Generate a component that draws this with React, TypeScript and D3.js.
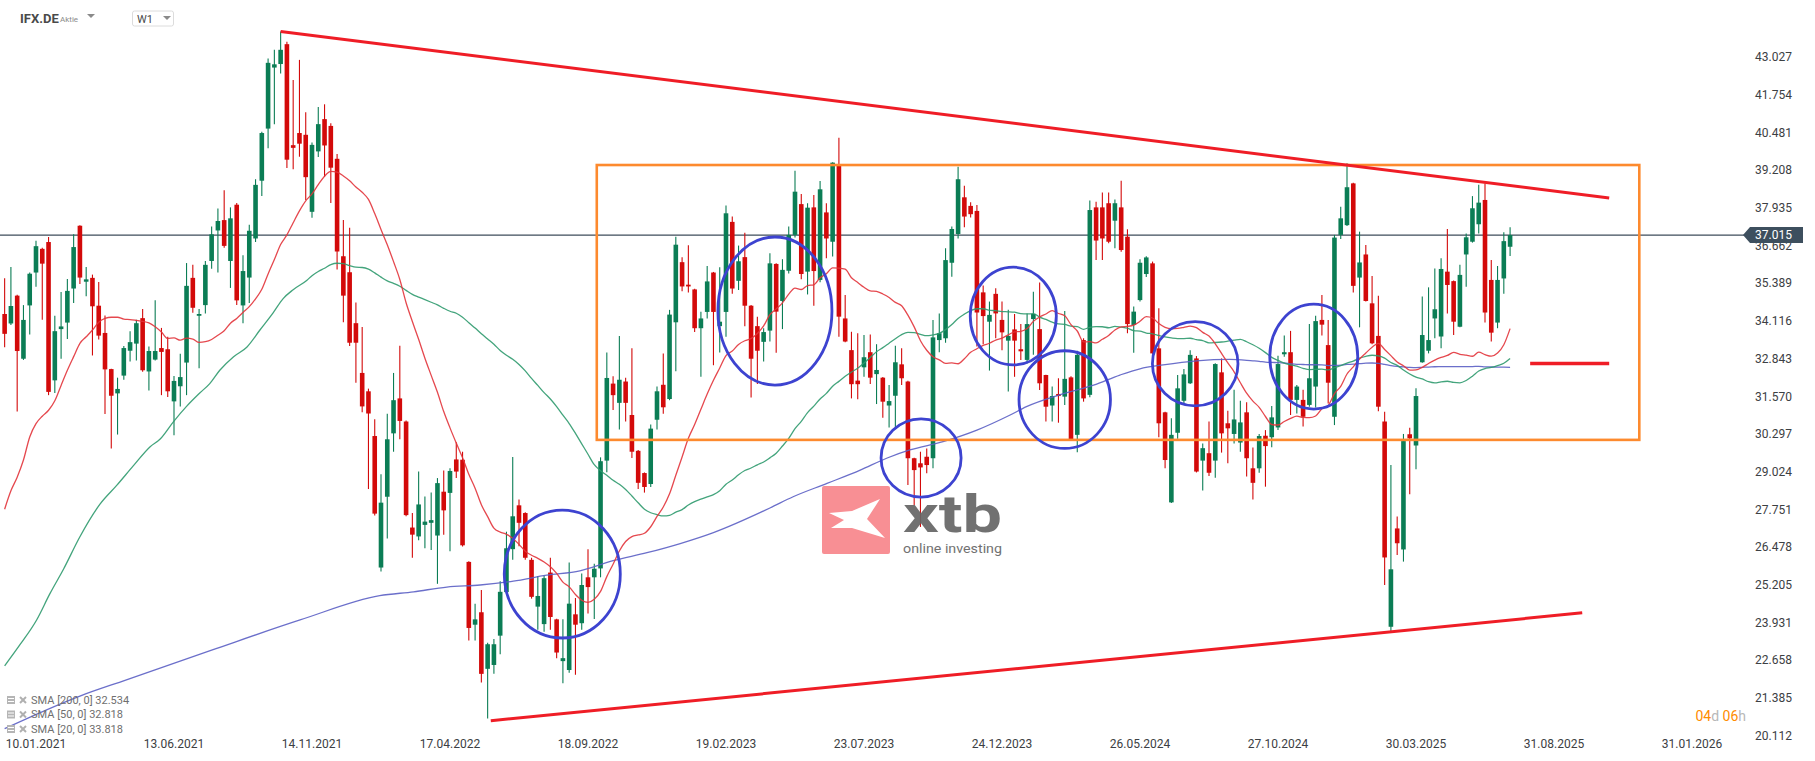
import React from "react";
import * as d3 from "d3";

// ---------- DATA (weekly candles, index 0 = week of 10.01.2021) ----------
const FIRST_INDEX = -5;
const opens = [
  34.35, 34.03, 34.97, 32.84, 34.64,
  35.75, 36.55, 36.78, 32.11, 33.84, 34.06, 35.21, 37.33, 35.44, 35.57,
  34.63, 33.71, 32.49, 31.67, 32.27, 33.11, 33.35, 34.21, 32.41, 32.81,
  33.20, 33.16, 31.40, 31.91, 32.71, 35.57, 34.29, 34.65, 36.14, 37.17,
  37.52, 36.14, 38.04, 34.64, 35.58, 36.90, 38.85, 40.61, 42.67, 42.79,
  43.46, 40.05, 40.46, 40.40, 37.80, 39.84, 40.93, 40.70, 39.59, 36.30,
  35.76, 34.04, 32.36, 31.74, 30.23, 25.79, 28.18, 30.32, 31.50, 30.72,
  27.14, 26.84, 27.23, 27.30, 26.87, 28.35, 28.31, 29.44, 29.43, 25.98,
  23.86, 24.28, 22.37, 22.50, 23.49, 24.96, 26.41, 27.89, 27.63, 26.05,
  24.47, 23.88, 25.62, 24.04, 22.63, 22.33, 24.21, 23.91, 25.46, 25.46,
  25.76, 29.40, 32.00, 31.35, 32.07, 30.94, 29.73, 28.98, 28.61, 30.78,
  31.96, 31.48, 34.07, 36.10, 35.34, 35.18, 33.87, 34.42, 35.75, 33.94,
  34.42, 37.46, 35.47, 36.27, 34.63, 33.94, 33.41, 33.79, 36.04, 34.79,
  35.81, 37.02, 38.06, 35.78, 37.95, 35.50, 37.78, 36.79, 39.38, 34.20,
  33.13, 32.10, 32.55, 33.06, 32.32, 32.20, 31.26, 31.59, 32.65, 32.07,
  29.48, 29.31, 29.53, 29.48, 33.47, 33.53, 36.08, 37.05, 38.29, 38.00,
  37.83, 35.08, 34.09, 35.03, 34.15, 33.45, 33.83, 33.16, 32.80, 34.18,
  33.84, 32.29, 31.26, 31.65, 31.56, 32.21, 30.27, 33.47, 31.62, 37.95,
  37.95, 38.09, 37.50, 37.95, 36.96, 33.98, 34.82, 35.70, 36.06, 33.19,
  31.03, 27.99, 30.34, 31.42, 32.01, 32.85, 29.40, 29.65, 29.40, 32.38,
  30.66, 30.30, 30.01, 31.03, 29.14, 29.14, 30.24, 30.19, 30.52, 32.99,
  33.06, 31.45, 31.45, 31.28, 31.90, 34.15, 33.30, 30.88, 37.02, 37.35,
  38.76, 35.58, 36.36, 34.71, 33.61, 30.72, 23.79, 27.11, 26.40, 30.29,
  29.91, 32.72, 33.11, 34.20, 33.59, 35.78, 35.46, 33.92, 36.36, 36.79,
  37.38, 38.20, 35.50, 34.06, 35.55, 36.62,
];
const highs = [
  35.56, 35.94, 35.0, 34.65, 35.75,
  36.82, 36.59, 36.95, 34.29, 35.09, 35.53, 37.04, 37.35, 35.94, 35.68,
  35.43, 34.30, 32.50, 32.20, 33.27, 33.77, 34.16, 34.52, 33.25, 34.81,
  33.88, 33.58, 32.26, 33.01, 36.07, 36.01, 34.52, 36.14, 37.30, 37.91,
  38.53, 37.95, 38.10, 36.33, 37.36, 38.90, 40.50, 42.98, 43.27, 43.89,
  43.54, 42.25, 42.93, 41.16, 40.14, 41.34, 41.43, 40.79, 39.75, 37.52,
  37.26, 34.74, 33.91, 31.83, 30.80, 28.94, 30.98, 32.36, 33.28, 30.75,
  27.63, 29.03, 28.19, 28.32, 28.81, 29.07, 29.14, 30.02, 29.70, 26.00,
  24.57, 25.03, 23.25, 23.38, 25.33, 27.00, 29.52, 28.09, 27.66, 26.12,
  25.50, 25.52, 26.12, 24.06, 24.04, 25.96, 24.76, 25.59, 26.41, 25.92,
  29.51, 33.05, 32.25, 33.61, 32.20, 33.19, 29.76, 29.00, 30.62, 31.90,
  33.02, 34.49, 36.96, 36.27, 36.67, 35.20, 34.43, 35.97, 35.77, 35.93,
  38.01, 37.64, 36.66, 37.09, 34.65, 34.26, 33.87, 36.40, 36.06, 36.20,
  37.30, 39.19, 38.40, 38.09, 38.37, 38.84, 38.09, 39.47, 40.30, 34.99,
  33.75, 33.70, 33.64, 33.66, 33.33, 32.22, 31.95, 33.28, 33.19, 32.10,
  29.50, 29.70, 29.81, 34.15, 34.37, 36.57, 37.30, 39.32, 38.68, 38.12,
  38.03, 35.31, 34.77, 35.22, 34.77, 34.49, 34.35, 34.01, 34.37, 35.10,
  35.41, 32.30, 31.90, 32.18, 34.45, 32.25, 33.11, 33.53, 38.18, 38.14,
  38.45, 38.45, 38.22, 38.85, 37.21, 34.60, 36.20, 36.30, 36.12, 34.54,
  31.05, 30.83, 32.29, 32.49, 33.13, 32.93, 29.98, 30.72, 32.69, 32.85,
  31.08, 31.79, 31.42, 31.37, 29.84, 30.30, 30.43, 31.24, 32.94, 33.62,
  33.78, 31.95, 31.79, 34.01, 34.29, 34.99, 34.15, 37.02, 37.97, 39.44,
  38.78, 37.13, 36.68, 35.63, 34.97, 31.05, 29.25, 27.51, 30.30, 30.51,
  31.84, 34.94, 35.25, 35.89, 36.23, 37.22, 35.48, 36.01, 37.07, 38.33,
  38.71, 38.76, 36.17, 35.97, 37.11, 37.28,
];
const lows = [
  33.23, 33.98, 31.06, 32.80, 33.66,
  35.27, 34.16, 31.61, 31.68, 32.84, 33.51, 34.72, 35.36, 34.95, 32.95,
  33.49, 30.97, 29.81, 30.28, 32.13, 32.75, 32.78, 32.40, 31.77, 32.78,
  31.61, 31.55, 30.26, 31.23, 31.61, 34.39, 32.52, 34.37, 35.88, 35.75,
  36.59, 35.23, 34.65, 34.04, 34.72, 36.78, 38.33, 39.95, 40.76, 42.47,
  39.28, 39.24, 39.66, 38.20, 37.60, 39.65, 38.98, 38.10, 35.85, 34.07,
  33.27, 32.03, 31.03, 28.44, 27.55, 25.66, 26.77, 29.70, 30.12, 27.52,
  26.12, 26.71, 26.44, 26.38, 25.24, 26.90, 26.34, 28.81, 26.50, 23.33,
  23.33, 21.91, 20.69, 22.20, 22.86, 24.90, 26.05, 26.51, 26.05, 24.74,
  23.69, 23.62, 23.69, 22.73, 21.88, 22.24, 22.17, 23.69, 24.24, 24.05,
  25.46, 29.01, 31.11, 30.45, 30.72, 29.49, 28.44, 28.32, 28.51, 30.45,
  30.98, 31.44, 32.42, 35.12, 35.08, 33.74, 32.23, 34.20, 32.62, 33.05,
  33.58, 35.03, 35.16, 33.94, 31.53, 31.99, 32.75, 33.42, 33.04, 33.84,
  35.72, 36.93, 35.52, 35.01, 34.63, 35.42, 36.23, 36.29, 33.58, 33.40,
  31.50, 31.47, 32.23, 31.99, 31.31, 30.85, 30.52, 30.52, 31.95, 28.58,
  27.90, 27.16, 28.97, 29.14, 33.06, 33.38, 35.61, 36.90, 37.28, 37.61,
  33.25, 33.33, 32.44, 33.53, 33.13, 31.73, 32.23, 32.80, 32.68, 32.97,
  31.78, 30.72, 30.72, 30.68, 31.28, 30.10, 29.68, 31.39, 31.54, 36.17,
  36.17, 36.74, 36.57, 36.45, 33.70, 33.04, 34.77, 35.60, 33.00, 30.19,
  29.14, 27.97, 30.14, 31.28, 31.99, 29.00, 28.39, 28.88, 28.82, 29.67,
  29.31, 29.98, 29.70, 28.86, 28.09, 28.99, 28.52, 29.85, 30.43, 32.91,
  30.94, 30.99, 30.55, 31.22, 31.19, 33.62, 31.33, 30.60, 36.88, 37.32,
  35.08, 33.90, 34.77, 33.33, 31.07, 25.20, 23.63, 26.21, 25.99, 28.26,
  29.11, 32.70, 33.02, 33.53, 33.19, 34.37, 33.64, 33.90, 35.27, 36.76,
  37.07, 34.06, 33.42, 33.87, 35.03, 36.31,
];
const closes = [
  33.68, 34.62, 33.10, 34.15, 35.71,
  36.64, 36.05, 31.72, 33.77, 33.93, 35.13, 36.61, 35.58, 35.52, 34.61,
  33.62, 32.48, 31.59, 31.82, 33.20, 33.40, 34.04, 32.45, 33.10, 33.10,
  33.07, 31.74, 32.09, 32.22, 35.30, 34.56, 34.35, 36.01, 37.04, 37.49,
  36.65, 37.58, 34.81, 35.80, 37.16, 38.71, 40.46, 42.83, 42.78, 43.27,
  39.56, 39.96, 40.10, 38.97, 40.06, 40.76, 40.04, 39.29, 36.46, 34.97,
  33.38, 33.38, 31.23, 30.99, 27.61, 27.98, 30.12, 31.44, 30.74, 27.56,
  26.90, 27.92, 27.34, 27.39, 28.64, 27.72, 29.05, 29.03, 26.54, 23.75,
  24.04, 22.20, 23.20, 23.20, 24.97, 26.44, 27.52, 27.30, 26.12, 24.80,
  24.83, 25.43, 24.12, 22.92, 22.73, 24.57, 23.86, 25.20, 25.13, 25.75,
  29.38, 32.19, 31.61, 32.13, 31.35, 29.70, 28.65, 28.51, 30.48, 31.74,
  31.20, 34.33, 36.69, 35.28, 35.28, 33.87, 34.20, 35.45, 34.42, 34.09,
  37.75, 35.21, 36.13, 34.63, 32.84, 33.11, 33.74, 36.06, 34.43, 35.84,
  37.02, 38.48, 35.70, 37.94, 35.80, 38.56, 36.90, 39.46, 34.26, 33.42,
  31.98, 31.98, 32.89, 32.20, 32.46, 31.39, 31.41, 32.72, 32.18, 29.48,
  29.08, 29.17, 29.25, 33.56, 33.70, 36.17, 37.22, 38.90, 37.64, 37.72,
  34.40, 34.28, 34.32, 34.37, 33.73, 33.61, 33.45, 33.09, 34.01, 34.35,
  32.01, 31.22, 31.58, 31.58, 32.16, 30.13, 32.97, 31.50, 37.86, 36.83,
  36.90, 36.79, 38.09, 36.51, 34.01, 34.43, 36.08, 36.26, 33.02, 30.66,
  29.42, 30.27, 31.84, 32.31, 32.97, 29.03, 29.82, 28.99, 32.66, 30.32,
  30.49, 30.79, 30.69, 29.48, 28.65, 30.23, 29.89, 30.86, 32.66, 33.06,
  31.45, 31.90, 30.88, 32.18, 34.11, 33.99, 32.03, 36.93, 37.58, 38.63,
  35.30, 36.09, 34.79, 33.36, 31.22, 26.13, 25.73, 26.61, 30.06, 30.15,
  31.58, 33.64, 33.47, 34.51, 35.87, 35.33, 34.09, 35.67, 36.94, 37.92,
  38.11, 34.40, 33.72, 35.50, 36.81, 37.015,
];
const lastPrice = 37.015;

const sma20Early: [number, number][] = [
  [-5, 27.76], [-4, 28.38], [-3, 28.84], [-2, 29.42], [-1, 30.2], [0, 30.65], [1, 30.9],
  [2, 31.1], [3, 31.42], [4, 31.94], [5, 32.45], [6, 32.91], [7, 33.36], [8, 33.58],
  [9, 33.81], [10, 34.07], [11, 34.2], [12, 34.24], [13, 34.24],
];
const sma50Early: [number, number][] = [
  [-5, 22.47], [-2.5, 23.2], [0.1, 24.02], [2.2, 24.9], [4.4, 25.74], [7.0, 26.83],
  [10.2, 27.93], [12.9, 28.57], [15.5, 29.22], [18.2, 29.87], [19.8, 30.13], [21.9, 30.71],
  [24.0, 31.23], [26.1, 31.68], [27.7, 32.0], [29.3, 32.45], [31.5, 32.91], [33.6, 33.23],
  [35.7, 33.81], [37.8, 34.39], [39.4, 34.87], [41.0, 35.17], [43.2, 35.49],
];
const sma200Early: [number, number][] = [
  [-5, 20.35], [7, 21.45], [14.3, 21.99], [28, 23.0], [42.1, 24.02], [54.8, 24.84],
  [60.2, 24.97], [65.5, 25.13], [70.8, 25.2], [76.1, 25.33], [81.4, 25.53], [86.7, 25.68],
  [92.0, 26.02], [97.4, 26.29], [102.7, 26.6], [108.0, 26.97], [117.0, 27.8], [120.7, 28.18],
  [126.1, 28.63], [131.4, 29.08], [135.6, 29.48], [139.3, 29.76], [144.6, 30.04],
  [150.0, 30.43], [155.3, 30.94], [157.9, 31.22], [163.2, 31.62], [168.6, 31.95],
  [172.8, 32.29], [176.0, 32.5], [179.7, 32.63], [185.0, 32.77], [190.3, 32.82],
];

const yTickLabels = [
  "43.027", "41.754", "40.481", "39.208", "37.935", "36.662", "35.389", "34.116", "32.843",
  "31.570", "30.297", "29.024", "27.751", "26.478", "25.205", "23.931", "22.658", "21.385", "20.112",
];
const xTickLabels = [
  "10.01.2021", "13.06.2021", "14.11.2021", "17.04.2022", "18.09.2022", "19.02.2023", "23.07.2023",
  "24.12.2023", "26.05.2024", "27.10.2024", "30.03.2025", "31.08.2025", "31.01.2026",
];
const xTickIndex = [0, 22, 44, 66, 88, 110, 132, 154, 176, 198, 220, 242, 264];

const legendItems = ["SMA [200, 0] 32.534", "SMA [50, 0] 32.818", "SMA [20, 0] 33.818"];

// annotations (week index, price)
const resistanceLine: [number, number][] = [[39, 43.89], [250.8, 38.27]];
const supportLine: [number, number][] = [[72.5, 20.62], [246.5, 24.26]];
const rangeBox = { i0: 89.4, i1: 255.6, top: 39.38, bottom: 30.1 };
const levelDash: [number, number][] = [[238.2, 32.68], [250.8, 32.68]];
// center index, center price, half width (weeks), half height (price)
const circles: [number, number, number, number][] = [
  [83.9, 25.57, 9.25, 2.16],
  [117.8, 34.45, 9.09, 2.5],
  [141.1, 29.49, 6.38, 1.32],
  [155.8, 34.28, 6.86, 1.65],
  [164.0, 31.46, 7.29, 1.65],
  [184.8, 32.67, 6.82, 1.42],
  [203.7, 32.91, 7.01, 1.77],
];

const GREEN = "#0b7d55";
const RED = "#d30a0a";
const FONT = "Roboto, 'Noto Sans', sans-serif";

function smaSeries(period: number, early: [number, number][]): [number, number][] {
  const pts: [number, number][] = early.slice();
  for (let k = period - 1; k < closes.length; k++) {
    let s = 0;
    for (let j = k - period + 1; j <= k; j++) s += closes[j];
    pts.push([FIRST_INDEX + k, s / period]);
  }
  return pts;
}

export default function App() {
  const W = 1815;
  const H = 761;
  const x = d3.scaleLinear().domain([0, 264]).range([36, 1692]);
  const y = d3.scaleLinear().domain([43.027, 21.385]).range([57, 698]);

  const line = d3
    .line<[number, number]>()
    .x((d) => x(d[0]))
    .y((d) => y(d[1]))
    .curve(d3.curveMonotoneX);
  const straight = d3
    .line<[number, number]>()
    .x((d) => x(d[0]))
    .y((d) => y(d[1]));

  const sma20 = smaSeries(20, sma20Early);
  const sma50 = smaSeries(50, sma50Early);
  const sma200 = smaSeries(200, sma200Early);

  const bodyW = 4.6;
  const yp = y(lastPrice);
  const wStep = x(1) - x(0);
  const pUnit = y(0) - y(1);

  return (
    <div style={{ position: "fixed", left: 0, top: 0, width: W, height: H, background: "#fff" }}>
      <svg width={W} height={H} style={{ display: "block", fontFamily: FONT }}>
        <rect width={W} height={H} fill="#ffffff" />

        {/* last price line */}
        <line x1={0} x2={1744} y1={yp} y2={yp} stroke="#3e4d5b" strokeWidth={1.2} />

        {/* candles */}
        <g>
          {closes.map((c, k) => {
            const i = FIRST_INDEX + k;
            const o = opens[k];
            const up = c >= o;
            const col = up ? GREEN : RED;
            const cx = x(i);
            const top = y(Math.max(o, c));
            const bot = y(Math.min(o, c));
            return (
              <g key={k}>
                <line x1={cx} x2={cx} y1={y(highs[k])} y2={y(lows[k])} stroke={col} strokeWidth={1.1} />
                <rect x={cx - bodyW / 2} y={top} width={bodyW} height={Math.max(1.5, bot - top)} fill={col} />
              </g>
            );
          })}
        </g>

        {/* moving averages */}
        <path d={line(sma200) || ""} fill="none" stroke="#5b5fc4" strokeWidth={1.3} opacity={0.9} />
        <path d={line(sma50) || ""} fill="none" stroke="#2f9a6e" strokeWidth={1.3} opacity={0.9} />
        <path d={line(sma20) || ""} fill="none" stroke="#e2343b" strokeWidth={1.3} opacity={0.9} />

        {/* range box */}
        <rect
          x={x(rangeBox.i0)}
          y={y(rangeBox.top)}
          width={x(rangeBox.i1) - x(rangeBox.i0)}
          height={y(rangeBox.bottom) - y(rangeBox.top)}
          fill="none"
          stroke="#fd8a2e"
          strokeWidth={2.6}
        />

        {/* trend lines */}
        <path d={straight(resistanceLine) || ""} stroke="#ef1d26" strokeWidth={3} fill="none" />
        <path d={straight(supportLine) || ""} stroke="#ef1d26" strokeWidth={3} fill="none" />
        <path d={straight(levelDash) || ""} stroke="#ef1d26" strokeWidth={3.5} fill="none" />

        {/* circles */}
        {circles.map((c, k) => (
          <ellipse
            key={k}
            cx={x(c[0])}
            cy={y(c[1])}
            rx={c[2] * wStep}
            ry={c[3] * pUnit}
            fill="none"
            stroke="#3d43d0"
            strokeWidth={2.8}
          />
        ))}

        {/* watermark */}
        <g transform="translate(822,486)" opacity={0.92}>
          <rect x={0} y={0} width={68} height={68} rx={2} fill="#f8868c" />
          <path d="M7,27 L30,25 L58,13 L45,33 L63,52 L30,42 L9,42 L22,34 Z" fill="#ffffff" />
          <text x={81} y={46} fontSize={52} fontWeight={700} fill="#666666" textLength={99} lengthAdjust="spacingAndGlyphs">
            xtb
          </text>
          <text x={81} y={67} fontSize={12} fill="#666666" textLength={99} lengthAdjust="spacingAndGlyphs">
            online investing
          </text>
        </g>

        {/* y axis labels */}
        {yTickLabels.map((t) => (
          <text key={t} x={1755} y={y(Number(t))} dy="0.35em" fontSize={12} fill="#3c4043">
            {t}
          </text>
        ))}

        {/* last price tag */}
        <path
          d={`M1743,${yp} L1750,${yp - 8} L1803,${yp - 8} L1803,${yp + 8} L1750,${yp + 8} Z`}
          fill="#3d4f5e"
        />
        <text x={1755} y={yp} dy="0.35em" fontSize={12} fill="#ffffff">
          {lastPrice.toFixed(3)}
        </text>

        {/* x axis labels */}
        {xTickLabels.map((t, k) => (
          <text key={t} x={x(xTickIndex[k])} y={748} textAnchor="middle" fontSize={12} fill="#3c4043">
            {t}
          </text>
        ))}

        {/* countdown */}
        <text x={1746} y={721} textAnchor="end" fontSize={14}>
          <tspan fill="#ff8c00">04</tspan>
          <tspan fill="#b8b8b8">d </tspan>
          <tspan fill="#ff8c00">06</tspan>
          <tspan fill="#b8b8b8">h</tspan>
        </text>

        {/* legend */}
        {legendItems.map((t, k) => {
          const cy = 700 + k * 14.5;
          return (
            <g key={t}>
              <rect x={7} y={cy - 4} width={8} height={8} fill="#b5b5b5" />
              <line x1={8} x2={14} y1={cy - 1.5} y2={cy - 1.5} stroke="#ffffff" strokeWidth={1} />
              <line x1={8} x2={14} y1={cy + 1.5} y2={cy + 1.5} stroke="#ffffff" strokeWidth={1} />
              <line x1={20} x2={26} y1={cy - 3} y2={cy + 3} stroke="#b0b0b0" strokeWidth={2} />
              <line x1={20} x2={26} y1={cy + 3} y2={cy - 3} stroke="#b0b0b0" strokeWidth={2} />
              <text x={31} y={cy} dy="0.35em" fontSize={11} fill="#6f6f6f">
                {t}
              </text>
            </g>
          );
        })}

        {/* header */}
        <text x={20} y={23} fontSize={13} fontWeight={700} fill="#4a4a4a">
          IFX.DE
        </text>
        <text x={60} y={22} fontSize={8} fill="#8a8a8a">
          Aktie
        </text>
        <path d="M87,14 L95,14 L91,18 Z" fill="#8a8a8a" />
        <rect x={132.5} y={11} width={41} height={15} rx={2} fill="#ffffff" stroke="#dcdcdc" />
        <text x={137} y={23} fontSize={11} fill="#4a4a4a">
          W1
        </text>
        <path d="M163,16 L171,16 L167,20 Z" fill="#8a8a8a" />
      </svg>
    </div>
  );
}
